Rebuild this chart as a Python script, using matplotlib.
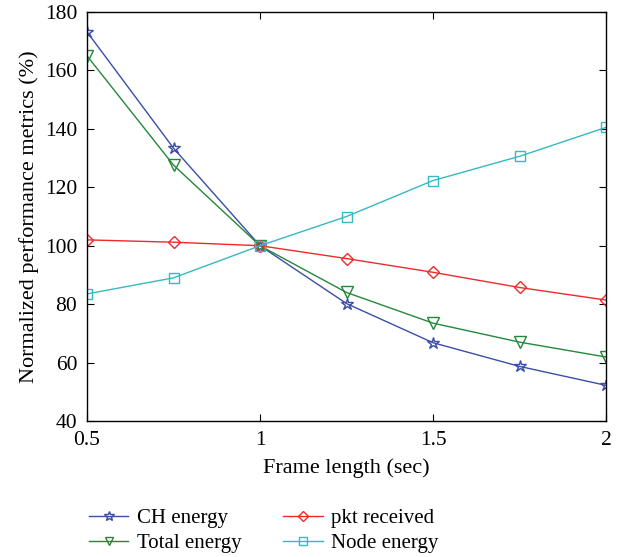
import matplotlib
matplotlib.use('Agg')
import matplotlib.pyplot as plt

plt.rcParams['font.family'] = ['Liberation Serif', 'DejaVu Serif']

# data
frame_len = [0.5, 0.75, 1.0, 1.25, 1.5, 1.75, 2.0]
ch_energy = [173.2, 133.4, 100, 80.2, 66.8, 58.7, 52.2]
total_energy = [165, 127.6, 100, 84, 73.5, 67, 61.9]
pkt_received = [102, 101.2, 100, 95.6, 90.9, 85.7, 81.4]
node_energy = [83.5, 89, 100, 110, 122.3, 130.6, 140.5]

fig = plt.figure(figsize=(6.22, 5.57), dpi=100)
ax = fig.add_axes([87/622, 1-421/557, (606-87)/622, (421-12)/557])

ax.plot(frame_len, ch_energy, '-*', color='#3a4ea6', lw=1, ms=9, mfc='none', mew=1, label='CH energy')
ax.plot(frame_len, total_energy, '-v', color='#23883a', lw=1, ms=8, mfc='none', mew=1, label='Total energy')
ax.plot(frame_len, pkt_received, '-D', color='#ee2a2a', lw=1, ms=6.5, mfc='none', mew=1, label='pkt received')
ax.plot(frame_len, node_energy, '-s', color='#35b9c2', lw=1, ms=6.5, mfc='none', mew=1, label='Node energy')

ax.set_xlim(0.5, 2)
ax.set_ylim(40, 180)
ax.set_xticks([0.5, 1, 1.5, 2])
ax.set_xticklabels(['0.5', '1', '1.5', '2'])
ax.set_yticks(range(40, 181, 20))
ax.tick_params(direction='in', top=True, right=True, labelsize=15.5, length=5, pad=7)
for s in ax.spines.values():
    s.set_linewidth(1)
ax.set_xlabel('Frame length (sec)', fontsize=16, labelpad=6)
ax.set_ylabel('Normalized performance metrics (%)', fontsize=16, labelpad=4)

# legend under the axes, no frame
handles, labels = ax.get_legend_handles_labels()
fig.legend(handles, labels, loc='upper left', bbox_to_anchor=(70/622, 1-490/557), ncol=2,
           frameon=False, fontsize=15, handlelength=1.9, handletextpad=0.4,
           columnspacing=2.0, labelspacing=0.25, markerscale=0.8)

plt.savefig('out.png')
